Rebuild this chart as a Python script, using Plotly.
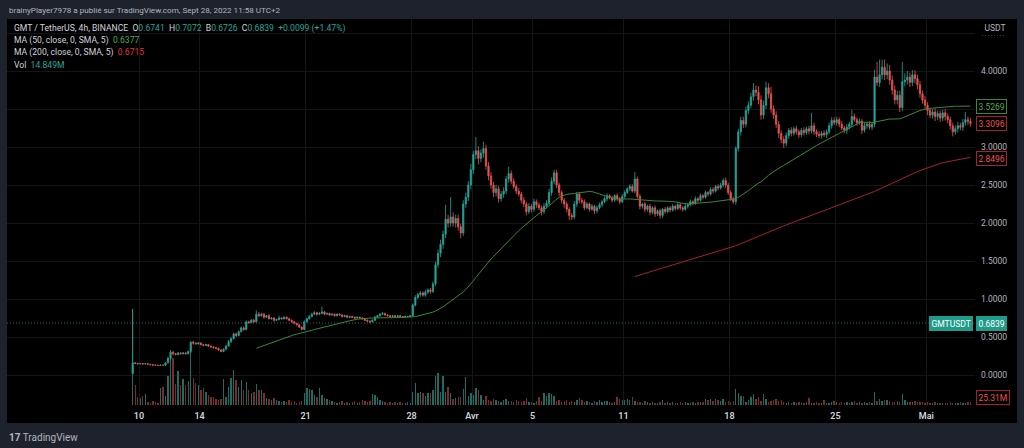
import pandas as pd
import numpy as np
import plotly.graph_objects as go

# ---------------- data ----------------
start_time = "2022-03-09 14:00"   # first 4h candle (UTC+2)
first_open = 0.02

close = [
    0.16, 0.152, 0.148, 0.150, 0.146, 0.148, 0.140, 0.135, 0.130, 0.128, 0.126, 0.130, 0.128,
    0.16, 0.22, 0.30, 0.28, 0.27, 0.29, 0.28, 0.29, 0.28, 0.31, 0.43,
    0.42, 0.41, 0.42, 0.40, 0.39, 0.40, 0.38, 0.37, 0.36, 0.35, 0.33, 0.31,
    0.34, 0.38, 0.44, 0.48, 0.54, 0.52, 0.57, 0.62, 0.60, 0.70, 0.69, 0.72, 0.70, 0.80,
    0.78, 0.80, 0.76, 0.78, 0.74, 0.75, 0.72, 0.73, 0.75, 0.74, 0.76, 0.74, 0.72, 0.70, 0.68, 0.66, 0.63, 0.60, 0.70,
    0.74, 0.77, 0.80, 0.82, 0.80, 0.81, 0.83, 0.80, 0.81, 0.79, 0.80, 0.78, 0.80, 0.79, 0.77, 0.78,
    0.76, 0.77, 0.76, 0.75, 0.76, 0.75, 0.74, 0.72, 0.71, 0.70, 0.72, 0.76, 0.78, 0.80, 0.81, 0.79,
    0.78, 0.77, 0.78, 0.77, 0.78, 0.77, 0.76, 0.77, 0.77, 0.78,
    0.92, 1.02, 1.06, 1.08, 1.05, 1.09, 1.12, 1.10, 1.20,
    1.45, 1.60, 1.72, 1.85, 2.05, 2.00, 2.08, 2.00, 2.06, 1.95, 1.87, 2.25, 2.34, 2.50, 2.70, 2.90, 2.95,
    2.85, 2.92, 2.98, 2.75, 2.62, 2.50, 2.40, 2.45, 2.32, 2.38, 2.42, 2.58, 2.65, 2.55,
    2.48, 2.42, 2.38, 2.30, 2.25, 2.15, 2.22, 2.18, 2.28, 2.24, 2.20, 2.15, 2.22, 2.26,
    2.40, 2.55, 2.66, 2.50, 2.40, 2.30, 2.25, 2.18, 2.10, 2.08, 2.25, 2.38, 2.30, 2.28,
    2.20, 2.25, 2.18, 2.22, 2.16, 2.20, 2.24, 2.28, 2.32, 2.36, 2.33, 2.30, 2.36, 2.32, 2.28, 2.35, 2.40, 2.45, 2.48, 2.42, 2.58,
    2.35, 2.22, 2.25, 2.18, 2.22, 2.14, 2.20, 2.12, 2.16, 2.10, 2.18, 2.15, 2.20, 2.17, 2.22, 2.19, 2.24, 2.20, 2.18, 2.22, 2.24,
    2.28, 2.26, 2.32, 2.30, 2.36, 2.34, 2.40, 2.38, 2.44, 2.42, 2.48, 2.46, 2.50, 2.56, 2.50, 2.40, 2.32, 2.28,
    2.98, 3.20, 3.35, 3.30, 3.48, 3.55, 3.66, 3.75, 3.72, 3.62, 3.42, 3.55, 3.78, 3.70, 3.50, 3.42, 3.30, 3.18,
    3.10, 3.05, 3.15, 3.22, 3.18, 3.24, 3.20, 3.16, 3.22, 3.19, 3.24, 3.21, 3.28, 3.20, 3.17, 3.15, 3.18, 3.16, 3.20,
    3.28, 3.35, 3.32, 3.36, 3.30, 3.25, 3.22, 3.26, 3.30, 3.40, 3.36, 3.32, 3.34, 3.22, 3.28, 3.30, 3.26, 3.30,
    3.92, 3.85, 3.95, 4.05, 3.95, 4.00, 3.88, 3.75, 3.62, 3.68, 3.52, 3.86, 3.88, 3.92, 3.85, 3.95, 3.90, 3.82,
    3.70, 3.62, 3.55, 3.48, 3.42, 3.46, 3.40, 3.44, 3.38, 3.45, 3.40, 3.36, 3.28, 3.20, 3.24, 3.28, 3.26, 3.32, 3.36, 3.34, 3.31,
]

# wick lengths above the body top / below the body bottom (price units)
upper_wick = [
    0.71, 0.01, 0.008, 0.01, 0.008, 0.01, 0.008, 0.006, 0.006, 0.005, 0.006, 0.008, 0.006,
    0.01, 0.02, 0.03, 0.02, 0.01, 0.012, 0.01, 0.012, 0.01, 0.012, 0.015,
    0.02, 0.01, 0.015, 0.01, 0.01, 0.012, 0.01, 0.01, 0.01, 0.008, 0.01, 0.008,
    0.01, 0.02, 0.02, 0.015, 0.02, 0.02, 0.015, 0.02, 0.02, 0.02, 0.015, 0.02, 0.02, 0.05,
    0.03, 0.02, 0.02, 0.012, 0.02, 0.012, 0.01, 0.012, 0.03, 0.01, 0.012, 0.01, 0.01, 0.01, 0.01, 0.008, 0.01, 0.008, 0.02,
    0.012, 0.02, 0.02, 0.02, 0.012, 0.02, 0.07, 0.012, 0.012, 0.01, 0.012, 0.01, 0.012, 0.01, 0.01, 0.012,
    0.01, 0.01, 0.01, 0.01, 0.01, 0.01, 0.01, 0.008, 0.01, 0.008, 0.012, 0.02, 0.012, 0.012, 0.02, 0.01,
    0.01, 0.008, 0.01, 0.006, 0.01, 0.008, 0.006, 0.01, 0.008, 0.01,
    0.02, 0.03, 0.02, 0.025, 0.02, 0.03, 0.02, 0.025, 0.03,
    0.04, 0.05, 0.06, 0.05, 0.19, 0.06, 0.26, 0.06, 0.05, 0.05, 0.04, 0.05, 0.06, 0.05, 0.08, 0.05, 0.18,
    0.06, 0.05, 0.09, 0.05, 0.05, 0.05, 0.04, 0.05, 0.04, 0.04, 0.05, 0.04, 0.09, 0.04,
    0.04, 0.03, 0.04, 0.03, 0.04, 0.03, 0.04, 0.03, 0.04, 0.03, 0.03, 0.03, 0.04, 0.04,
    0.05, 0.05, 0.04, 0.04, 0.03, 0.03, 0.03, 0.03, 0.03, 0.03, 0.04, 0.03, 0.03, 0.03,
    0.03, 0.03, 0.02, 0.03, 0.02, 0.03, 0.03, 0.02, 0.03, 0.03, 0.02, 0.03, 0.02, 0.03, 0.02, 0.03, 0.03, 0.02, 0.03, 0.03, 0.09,
    0.03, 0.03, 0.02, 0.03, 0.02, 0.03, 0.02, 0.03, 0.02, 0.03, 0.02, 0.03, 0.02, 0.02, 0.03, 0.02, 0.03, 0.02, 0.02, 0.03, 0.02,
    0.03, 0.02, 0.03, 0.02, 0.03, 0.02, 0.03, 0.02, 0.03, 0.03, 0.02, 0.03, 0.03, 0.03, 0.04, 0.03, 0.03, 0.02,
    0.03, 0.04, 0.05, 0.05, 0.05, 0.05, 0.05, 0.09, 0.06, 0.08, 0.06, 0.06, 0.08, 0.06, 0.09, 0.05, 0.05, 0.04,
    0.04, 0.04, 0.04, 0.03, 0.04, 0.03, 0.04, 0.03, 0.03, 0.04, 0.03, 0.04, 0.17, 0.04, 0.03, 0.04, 0.03, 0.04, 0.03,
    0.04, 0.04, 0.04, 0.04, 0.03, 0.04, 0.03, 0.04, 0.03, 0.09, 0.04, 0.03, 0.04, 0.03, 0.04, 0.03, 0.04, 0.03,
    0.10, 0.20, 0.20, 0.10, 0.10, 0.10, 0.08, 0.06, 0.06, 0.06, 0.06, 0.26, 0.09, 0.08, 0.06, 0.06, 0.06, 0.05,
    0.05, 0.04, 0.05, 0.04, 0.04, 0.04, 0.05, 0.04, 0.04, 0.04, 0.05, 0.04, 0.04, 0.04, 0.04, 0.05, 0.04, 0.05, 0.10, 0.04, 0.04,
]

lower_wick = [
    0.01, 0.008, 0.008, 0.006, 0.008, 0.006, 0.008, 0.006, 0.005, 0.006, 0.005, 0.006, 0.005,
    0.008, 0.01, 0.02, 0.02, 0.01, 0.01, 0.01, 0.01, 0.01, 0.01, 0.02,
    0.02, 0.01, 0.01, 0.012, 0.01, 0.01, 0.012, 0.01, 0.01, 0.01, 0.012, 0.01,
    0.01, 0.012, 0.01, 0.02, 0.012, 0.02, 0.012, 0.01, 0.02, 0.012, 0.02, 0.012, 0.02, 0.012,
    0.02, 0.012, 0.02, 0.012, 0.01, 0.012, 0.02, 0.01, 0.012, 0.01, 0.012, 0.01, 0.01, 0.012, 0.01, 0.01, 0.012, 0.012, 0.01,
    0.012, 0.01, 0.012, 0.01, 0.02, 0.012, 0.01, 0.012, 0.01, 0.012, 0.01, 0.012, 0.01, 0.01, 0.012, 0.01,
    0.012, 0.01, 0.01, 0.012, 0.01, 0.01, 0.012, 0.01, 0.012, 0.02, 0.01, 0.012, 0.01, 0.012, 0.01, 0.012,
    0.01, 0.006, 0.01, 0.008, 0.006, 0.01, 0.01, 0.008, 0.006, 0.01,
    0.01, 0.02, 0.02, 0.03, 0.02, 0.02, 0.025, 0.03, 0.02,
    0.03, 0.04, 0.05, 0.06, 0.05, 0.06, 0.05, 0.05, 0.06, 0.05, 0.07, 0.04, 0.05, 0.05, 0.06, 0.06, 0.06,
    0.08, 0.05, 0.06, 0.05, 0.06, 0.05, 0.06, 0.05, 0.05, 0.04, 0.05, 0.04, 0.05, 0.04,
    0.03, 0.04, 0.03, 0.04, 0.04, 0.05, 0.03, 0.04, 0.03, 0.04, 0.03, 0.05, 0.03, 0.03,
    0.03, 0.04, 0.04, 0.04, 0.05, 0.04, 0.05, 0.04, 0.06, 0.04, 0.03, 0.04, 0.04, 0.03,
    0.03, 0.02, 0.03, 0.02, 0.04, 0.03, 0.02, 0.03, 0.02, 0.03, 0.02, 0.03, 0.02, 0.03, 0.03, 0.02, 0.03, 0.02, 0.03, 0.02, 0.03,
    0.03, 0.04, 0.03, 0.04, 0.03, 0.04, 0.03, 0.04, 0.03, 0.04, 0.03, 0.03, 0.02, 0.03, 0.02, 0.03, 0.02, 0.03, 0.03, 0.02, 0.03,
    0.02, 0.03, 0.02, 0.03, 0.02, 0.03, 0.02, 0.03, 0.02, 0.03, 0.02, 0.03, 0.02, 0.03, 0.04, 0.03, 0.03, 0.03,
    0.04, 0.04, 0.05, 0.05, 0.04, 0.05, 0.04, 0.05, 0.05, 0.06, 0.06, 0.05, 0.05, 0.06, 0.05, 0.05, 0.05, 0.06,
    0.05, 0.06, 0.04, 0.04, 0.04, 0.03, 0.04, 0.04, 0.03, 0.04, 0.03, 0.04, 0.03, 0.04, 0.04, 0.03, 0.04, 0.03, 0.04,
    0.03, 0.04, 0.03, 0.04, 0.04, 0.03, 0.04, 0.05, 0.03, 0.04, 0.03, 0.04, 0.03, 0.05, 0.03, 0.04, 0.03, 0.04,
    0.04, 0.05, 0.06, 0.06, 0.07, 0.06, 0.06, 0.06, 0.06, 0.06, 0.06, 0.05, 0.06, 0.06, 0.06, 0.05, 0.06, 0.06,
    0.05, 0.05, 0.05, 0.06, 0.04, 0.05, 0.06, 0.05, 0.05, 0.04, 0.05, 0.05, 0.05, 0.06, 0.04, 0.05, 0.04, 0.05, 0.04, 0.05, 0.04,
]

# volume per 4h candle, millions of GMT
volume_m = [
    960, 200, 80, 70, 90, 110, 30, 20, 40, 30, 20, 170, 180,
    90, 290, 500, 470, 210, 340, 200, 260, 200, 240, 530,
    270, 220, 200, 150, 170, 130, 100, 80, 80, 60, 50, 60,
    260, 80, 180, 270, 350, 250, 180, 250, 150, 230, 150, 120, 130, 210,
    150, 150, 120, 70, 60, 50, 70, 50, 40, 30, 40, 30, 50, 30, 40, 20, 30, 40, 120,
    170, 160, 150, 100, 80, 170, 100, 70, 60, 50, 40, 30, 20, 30, 40, 20,
    30, 20, 30, 40, 20, 30, 50, 40, 30, 40, 110, 100, 80, 50, 40, 30,
    20, 30, 20, 30, 20, 30, 20, 20, 30, 20,
    130, 220, 120, 130, 120, 90, 120, 120, 150,
    290, 320, 130, 290, 130, 180, 120, 60, 70, 80, 80, 160, 280, 90, 120, 100, 170,
    150, 100, 50, 90, 50, 40, 60, 50, 40, 30, 50, 60, 40, 40,
    30, 50, 40, 30, 40, 70, 30, 30, 20, 40, 80, 40, 120, 90,
    120, 110, 90, 40, 50, 30, 40, 50, 30, 40, 30, 50, 70, 50,
    30, 40, 30, 20, 40, 30, 50, 30, 40, 40, 30, 20, 30, 80, 60, 50, 50, 60, 50, 80, 40,
    30, 30, 20, 40, 30, 20, 30, 20, 20, 30, 50, 20, 30, 20, 30, 20, 20, 30, 20, 30, 20,
    20, 30, 20, 30, 30, 30, 60, 50, 60, 40, 60, 50, 40, 60, 30, 40, 30, 40,
    160, 120, 90, 90, 30, 50, 80, 110, 60, 80, 40, 110, 60, 30, 40, 50, 60, 40,
    50, 30, 20, 30, 20, 30, 20, 30, 20, 20, 30, 70, 20, 20, 30, 20, 20, 50, 20,
    20, 30, 40, 30, 20, 30, 20, 30, 20, 30, 40, 20, 30, 20, 30, 20, 30, 20,
    130, 40, 60, 40, 50, 50, 40, 30, 30, 40, 30, 110, 50, 30, 30, 30, 40, 30,
    30, 30, 20, 30, 20, 20, 30, 20, 20, 20, 20, 20, 30, 20, 20, 20, 30, 20, 20, 30, 25.31,
]

date_ticks = ["2022-03-10", "2022-03-14", "2022-03-21", "2022-03-28", "2022-04-01",
              "2022-04-05", "2022-04-11", "2022-04-18", "2022-04-25", "2022-05-01"]
date_labels = ["10", "14", "21", "28", "Avr", "5", "11", "18", "25", "Mai"]
price_ticks = [0.0, 0.5, 1.0, 1.5, 2.0, 2.5, 3.0, 3.5, 4.0, 4.5]
price_labels = ["0.0000", "0.5000", "1.0000", "1.5000", "2.0000", "2.5000", "3.0000", "", "4.0000", ""]

current_price = 0.6839
ma50_last, ma200_last, close_last, vol_last = 3.5269, 2.8496, 3.3096, "25.31M"

n = len(close)
if not (len(upper_wick) == len(lower_wick) == len(volume_m) == n):
    raise ValueError(f"length mismatch {n} {len(upper_wick)} {len(lower_wick)} {len(volume_m)}")

# ---------------- derived series ----------------
times = pd.date_range(start_time, periods=n, freq="4h")
opens = [first_open] + close[:-1]
highs = [max(o, c) + u for o, c, u in zip(opens, close, upper_wick)]
lows = [max(min(o, c) - d, 0.005) for o, c, d in zip(opens, close, lower_wick)]
cs = pd.Series(close)
ma50 = cs.rolling(50).mean()
ma200 = cs.rolling(200).mean()

UP, DOWN = "#26a69a", "#ef5350"
vol_colors = ["#1b6c64" if c >= o else "#7a2c2b" for o, c in zip(opens, close)]

# ---------------- layout geometry (pixels) ----------------
W, H = 1024, 448
ML, MR, MT, MB = 7, 49, 19, 43
PW, PH = W - ML - MR, H - MT - MB


def px(x):
    return (x - ML) / PW


def py(y):
    return (H - MB - y) / PH


first_px, px_per_day = 132.7, 15.14
t0 = times[0]
x_left = t0 - pd.Timedelta(days=(first_px - ML) / px_per_day)
x_right = t0 + pd.Timedelta(days=(W - MR - first_px) / px_per_day)
price_zero_px, px_per_unit = 375.0, 76.0
y_range = [(price_zero_px - (H - MB)) / px_per_unit, (price_zero_px - MT) / px_per_unit]

FONT = "Roboto"
TXT = "#d1d4dc"
AX = "#b2b5be"
MA50_C, MA200_C = "#388a30", "#a8202a"

fig = go.Figure()
fig.add_trace(go.Bar(x=times, y=volume_m, marker=dict(color=vol_colors, line=dict(width=0)),
                     width=4 * 3600 * 1000 * 0.55, yaxis="y", hoverinfo="skip"))
fig.add_trace(go.Scatter(x=times, y=ma200, mode="lines", line=dict(color=MA200_C, width=1),
                         yaxis="y2", hoverinfo="skip"))
fig.add_trace(go.Scatter(x=times, y=ma50, mode="lines", line=dict(color=MA50_C, width=1),
                         yaxis="y2", hoverinfo="skip"))
fig.add_trace(go.Candlestick(x=times, open=opens, high=highs, low=lows, close=close, yaxis="y2",
                             increasing=dict(line=dict(color=UP, width=0.8), fillcolor=UP),
                             decreasing=dict(line=dict(color=DOWN, width=0.8), fillcolor=DOWN),
                             whiskerwidth=0, hoverinfo="skip"))

shapes = [
    dict(type="rect", xref="paper", yref="paper", x0=px(7), x1=px(1017), y0=py(423), y1=py(19),
         fillcolor="#000000", line=dict(width=0), layer="below"),
    dict(type="line", xref="paper", yref="y2", x0=0, x1=1, y0=current_price, y1=current_price,
         line=dict(color="#1a7266", width=1, dash="1px,2px")),
    dict(type="line", xref="paper", yref="paper", x0=px(982), x1=px(1005), y0=py(35), y1=py(35),
         line=dict(color="#6a6d78", width=1, dash="1px,2px")),
]

anns = []


def label(text, x, y, color, yref="paper", xanchor="left", bg="#000000", border=None, size=8.5):
    anns.append(dict(text=text, x=x, y=y, xref="paper", yref=yref, xanchor=xanchor, yanchor="middle",
                     showarrow=False, font=dict(family=FONT, size=size, color=color), bgcolor=bg,
                     bordercolor=border if border else bg, borderwidth=1, borderpad=1.5))


anns.append(dict(text="brainyPlayer7978 a publié sur TradingView.com, Sept 28, 2022 11:58 UTC+2",
                 x=px(7), y=py(10), xref="paper", yref="paper", xanchor="left", yanchor="middle",
                 showarrow=False, font=dict(family=FONT, size=8.1, color=AX)))
g = UP
line1 = ("GMT / TetherUS, 4h, BINANCE&nbsp;&nbsp;O<span style='color:%s'>0.6741</span>&nbsp;&nbsp;"
         "H<span style='color:%s'>0.7072</span>&nbsp;&nbsp;B<span style='color:%s'>0.6726</span>&nbsp;&nbsp;"
         "C<span style='color:%s'>0.6839</span>&nbsp;&nbsp;<span style='color:%s'>+0.0099 (+1.47%%)</span>") % (g, g, g, g, g)
legend_lines = [
    (line1, 28.5),
    ("MA (50, close, 0, SMA, 5)&nbsp;&nbsp;<span style='color:#4caf50'>0.6377</span>", 41),
    ("MA (200, close, 0, SMA, 5)&nbsp;&nbsp;<span style='color:#e0353a'>0.6715</span>", 53),
    ("Vol&nbsp;&nbsp;<span style='color:#26a69a'>14.849M</span>", 64.5),
]
for txt, yy in legend_lines:
    anns.append(dict(text=txt, x=px(12), y=py(yy), xref="paper", yref="paper", xanchor="left",
                     yanchor="middle", showarrow=False, font=dict(family=FONT, size=8.6, color=TXT)))

label("USDT", px(982), py(28), AX)
label(f"{ma50_last:.4f}", px(976), ma50_last, "#4caf50", yref="y2", border=MA50_C)
label(f"{close_last:.4f}", px(976), close_last, "#ef5350", yref="y2", border=MA200_C)
label(f"{ma200_last:.4f}", px(976), ma200_last, "#ef5350", yref="y2", border=MA200_C)
label("GMTUSDT", px(973), current_price, "#ffffff", yref="y2", xanchor="right", bg="#1f9c89")
label(f"{current_price:.4f}", px(976), current_price, "#ffffff", yref="y2", bg="#1f9c89")
label(vol_last, px(976), py(397), "#ef5350", border=MA200_C)
anns.append(dict(text="<b>17</b> TradingView", x=px(7), y=py(437), xref="paper", yref="paper",
                 xanchor="left", yanchor="middle", showarrow=False,
                 font=dict(family=FONT, size=10, color=AX)))

fig.update_layout(
    width=W, height=H, margin=dict(l=ML, r=MR, t=MT, b=MB, autoexpand=False),
    paper_bgcolor="#1e222d", plot_bgcolor="#000000", showlegend=False, bargap=0,
    shapes=shapes, annotations=anns, hovermode=False,
    xaxis=dict(type="date", range=[x_left, x_right], tickvals=date_ticks, ticktext=date_labels,
               showgrid=True, gridcolor="#141518", gridwidth=1, zeroline=False, showline=False,
               ticks="", ticklabelstandoff=4, tickfont=dict(family=FONT, size=9, color=TXT, weight=600),
               rangeslider=dict(visible=False), fixedrange=True),
    yaxis=dict(range=[0, 3860], visible=False, showgrid=False, fixedrange=True),
    yaxis2=dict(overlaying="y", side="right", range=y_range, tickvals=price_ticks, ticktext=price_labels,
                showgrid=True, gridcolor="#141518", gridwidth=1, zeroline=False, showline=False,
                ticks="", ticklabelstandoff=5, tickfont=dict(family=FONT, size=8.5, color=AX),
                fixedrange=True),
)

fig.write_html("out.html", config={"displayModeBar": False, "staticPlot": True},
               post_script="document.body.style.margin='0';document.body.style.overflow='hidden';")
